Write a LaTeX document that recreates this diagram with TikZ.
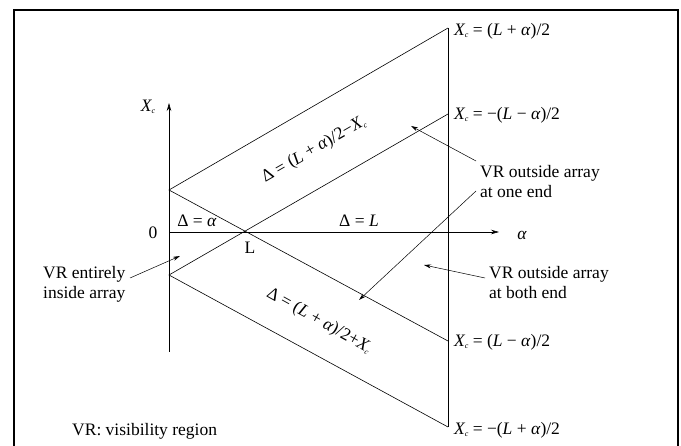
\documentclass[tikz,border=0pt]{standalone}
\usepackage{fontspec}
\setmainfont{Liberation Serif}
\usetikzlibrary{arrows.meta}
\newcommand\Xc{\textit{X}\kern-0.6pt\raisebox{-0.3ex}{\fontsize{8}{8}\selectfont\textit{c}}}
\newcommand\al{\textit{α}}
\tikzset{
  lbl/.style={font=\fontsize{17.5}{20}\selectfont, inner sep=0pt},
  notebox/.style={lbl, align=left, anchor=west},
  eqlbl/.style={lbl, anchor=west},
  bnd/.style={line width=0.6pt},
  axarr/.style={-{Stealth[length=8pt,width=4.5pt]}, line width=0.6pt},
  notearr/.style={-{Stealth[length=7pt,width=4pt]}, line width=0.5pt},
}
\begin{document}
\begin{tikzpicture}[x=1pt, y=-1pt]
  \useasboundingbox (0,0) rectangle (681,446);
  % Frame, open at the bottom
  \draw[line width=1.3pt] (14,446) -- (14,10) -- (678,10) -- (678,446);
  % Axes
  \coordinate (O)    at (169,232);
  \coordinate (Ytop) at (169,103);
  \coordinate (Ybot) at (169,352);
  \coordinate (Xend) at (499,232);
  \draw[bnd] (Ybot) -- (O);
  \draw[axarr] (O) -- (Ytop);
  \draw[axarr] (O) -- (Xend);
  \node[lbl] at (148,107) (Xlab) {\Xc};
  \node[lbl] at (522,235) (alab) {\al};
  \node[lbl] at (153,233) (zero) {0};
  \node[lbl] at (250,248) (Llab) {L};
  % Corners of the regions
  \coordinate (P1) at (169,190);
  \coordinate (P2) at (169,275);
  \coordinate (T1) at (448,28);
  \coordinate (T2) at (448,114);
  \coordinate (T3) at (448,341);
  \coordinate (T4) at (448,427);
  % Boundaries
  \draw[bnd] (T1) -- (T4);
  \draw[bnd] (T1) -- (P1) -- (T3);
  \draw[bnd] (T2) -- (P2) -- (T4);
  % Boundary labels
  \node[eqlbl] at (454,31)  (e1) {\Xc\ = (\textit{L} + \al)/2};
  \node[eqlbl] at (454,115) (e2) {\Xc\ = −(\textit{L} − \al)/2};
  \node[eqlbl] at (454,342) (e3) {\Xc\ = (\textit{L} − \al)/2};
  \node[eqlbl] at (454,430) (e4) {\Xc\ = −(\textit{L} + \al)/2};
  % Region labels
  \node[lbl] at (197,221) (dA) {Δ = \al};
  \node[lbl] at (359,221) (dL) {Δ = \textit{L}};
  \node[lbl, rotate=30]  at (314,150) (dUp) {Δ = (\textit{L} + \al)/2−\Xc};
  \node[lbl, rotate=-29] at (319,321) (dLo) {Δ = (\textit{L} + \al)/2+\Xc};
  % Notes
  \node[notebox] at (480,182) (oneEnd)  {VR outside array\\at one end};
  \node[notebox] at (489,283) (bothEnd) {VR outside array\\at both end};
  \node[notebox] at (43,284)  (inside)  {VR entirely\\inside array};
  \node[notebox] at (72,431)  (vrkey)   {VR: visibility region};
  \coordinate (aOne1) at (411,126);
  \coordinate (aOne2) at (359,300);
  \coordinate (aBoth) at (424,265);
  \coordinate (aIn)   at (180,256);
  % Note arrows
  \draw[notearr] (476,161) -- (aOne1);
  \draw[notearr] (476,191) -- (aOne2);
  \draw[notearr] (485,278) -- (aBoth);
  \draw[notearr] (130,278) -- (aIn);
\end{tikzpicture}
\end{document}
